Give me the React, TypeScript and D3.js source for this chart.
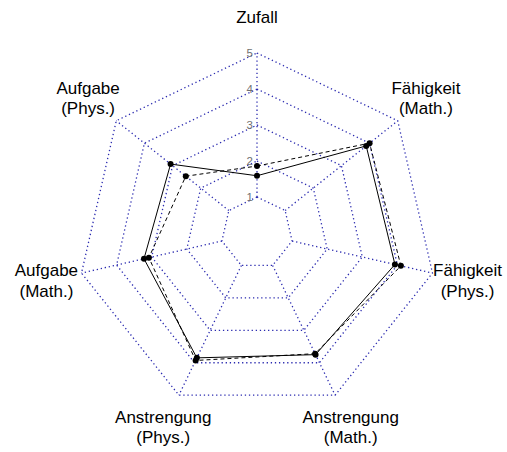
import React from "react";
import * as d3 from "d3";

const categories: string[][] = [
  ["Zufall"],
  ["Fähigkeit", "(Math.)"],
  ["Fähigkeit", "(Phys.)"],
  ["Anstrengung", "(Math.)"],
  ["Anstrengung", "(Phys.)"],
  ["Aufgabe", "(Math.)"],
  ["Aufgabe", "(Phys.)"],
];
const seriesSolid = [1.59, 3.88, 3.93, 3.75, 3.85, 3.22, 3.07];
const seriesDashed = [1.86, 4.0, 4.1, 3.72, 3.93, 3.08, 2.53];
const ringValues = [1, 2, 3, 4, 5];
const tickLabels = ["1", "2", "3", "4", "5"];

const W = 507;
const H = 452;
const cx = 257;
const cy = 233;

export default function App() {
  const r = d3.scaleLinear().domain([0, 5]).range([0, 180]);
  const n = categories.length;
  const ang = d3.scaleLinear().domain([0, n]).range([0, 2 * Math.PI]);
  const pt = (i: number, v: number): [number, number] => [
    cx + r(v) * Math.sin(ang(i)),
    cy - r(v) * Math.cos(ang(i)),
  ];
  const closed = d3.line().curve(d3.curveLinearClosed);
  const grid = "#2b2bb0";
  const series = [
    { vals: seriesSolid, dash: undefined as string | undefined },
    { vals: seriesDashed, dash: "4,3" },
  ];
  return (
    <svg
      width={W}
      height={H}
      style={{ position: "absolute", left: 0, top: 0, background: "#fff" }}
      fontFamily="'Liberation Sans', Arial, sans-serif"
    >
      {ringValues.map((v) => (
        <path
          key={"ring" + v}
          d={closed(d3.range(n).map((i) => pt(i, v))) || ""}
          fill="none"
          stroke={grid}
          strokeWidth={1.3}
          strokeDasharray="1.3,2.8"
        />
      ))}
      {d3.range(n).map((i) => {
        const [x1, y1] = pt(i, ringValues[0]);
        const [x2, y2] = pt(i, ringValues[ringValues.length - 1]);
        return (
          <line
            key={"sp" + i}
            x1={x1}
            y1={y1}
            x2={x2}
            y2={y2}
            stroke={grid}
            strokeWidth={1.3}
            strokeDasharray="1.3,2.8"
          />
        );
      })}
      {ringValues.map((v, k) => (
        <text
          key={"tk" + v}
          x={cx - 4}
          y={cy - r(v)}
          textAnchor="end"
          dominantBaseline="central"
          fontSize={11.5}
          fill="#707070"
        >
          {tickLabels[k]}
        </text>
      ))}
      {series.map((s, si) => (
        <g key={"s" + si}>
          <path
            d={closed(s.vals.map((v, i) => pt(i, v))) || ""}
            fill="none"
            stroke="#000"
            strokeWidth={1}
            strokeDasharray={s.dash}
          />
          {s.vals.map((v, i) => {
            const [x, y] = pt(i, v);
            return <circle key={i} cx={x} cy={y} r={3} fill="#000" />;
          })}
        </g>
      ))}
      {categories.map((lines, i) => {
        const [x, y] = pt(i, 6);
        const lh = 20.5;
        const y0 = y - ((lines.length - 1) * lh) / 2;
        return (
          <text
            key={"lab" + i}
            x={x}
            textAnchor="middle"
            fontSize={17}
            fill="#000"
          >
            {lines.map((t, j) => (
              <tspan key={j} x={x} y={y0 + j * lh} dominantBaseline="central">
                {t}
              </tspan>
            ))}
          </text>
        );
      })}
    </svg>
  );
}
